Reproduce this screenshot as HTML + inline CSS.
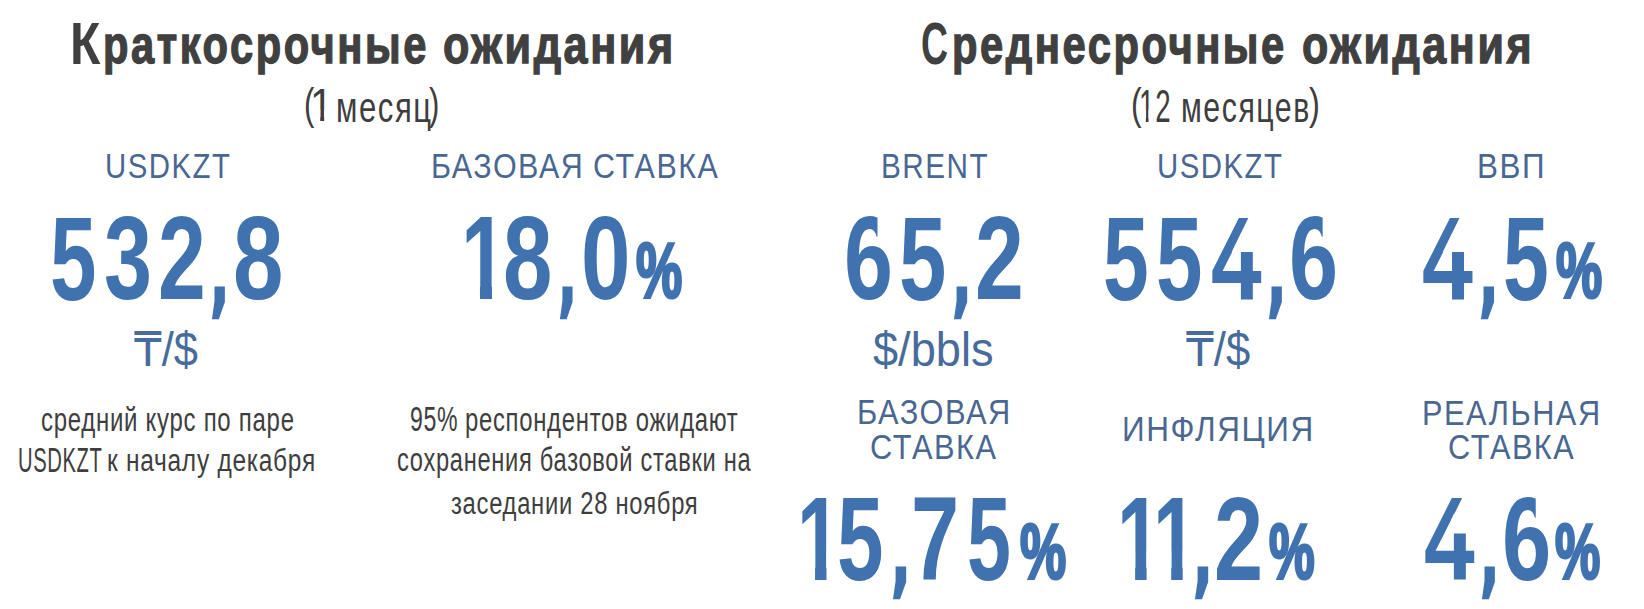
<!DOCTYPE html>
<html lang="ru"><head><meta charset="utf-8"><title>Ожидания</title>
<style>
html,body{margin:0;padding:0;background:#fff;}
body{width:1644px;height:609px;position:relative;overflow:hidden;}
body>div{position:absolute;line-height:1;white-space:nowrap;transform-origin:0 0;font-family:'Liberation Sans', 'DejaVu Sans', sans-serif;}
</style></head><body>
<div style="left:70.49px;top:14.19px;font-size:59.42px;font-weight:bold;color:#404040;transform:scaleX(0.8383);">К</div>
<div style="left:103.32px;top:19.23px;font-size:52.73px;font-weight:bold;color:#404040;transform:scaleX(0.7915);letter-spacing:0.06em;-webkit-text-stroke:0.025em #404040;">раткосрочные</div>
<div style="left:443.03px;top:18.67px;font-size:52.73px;font-weight:bold;color:#404040;transform:scaleX(0.8182);letter-spacing:0.06em;-webkit-text-stroke:0.025em #404040;">ожидания</div>
<div style="left:921.12px;top:14.18px;font-size:59.44px;font-weight:bold;color:#404040;transform:scaleX(0.6290);">С</div>
<div style="left:951.71px;top:19.23px;font-size:52.73px;font-weight:bold;color:#404040;transform:scaleX(0.7921);letter-spacing:0.06em;-webkit-text-stroke:0.025em #404040;">реднесрочные</div>
<div style="left:1301.56px;top:18.67px;font-size:52.73px;font-weight:bold;color:#404040;transform:scaleX(0.8164);letter-spacing:0.06em;-webkit-text-stroke:0.025em #404040;">ожидания</div>
<div style="left:304.47px;top:81.65px;font-size:44.47px;color:#3e3e3e;transform:scaleX(0.7006);">(</div>
<div style="left:310.46px;top:81.44px;font-size:47.10px;color:#3e3e3e;transform:scaleX(0.8758);clip-path:polygon(-0.5000em -0.5000em,30.0000em -0.5000em,30.0000em 1.5000em,0.5273em 1.5000em,0.5273em 0.5965em,0.3438em 0.5965em,0.3438em 1.5000em,0.2475em 1.5000em,0.2475em 0.5965em,-0.5000em 0.5965em);">1</div>
<div style="left:336.47px;top:85.93px;font-size:42.64px;color:#3e3e3e;transform:scaleX(0.7297);letter-spacing:0.05em;">месяц</div>
<div style="left:429.09px;top:81.65px;font-size:44.47px;color:#3e3e3e;transform:scaleX(0.7006);">)</div>
<div style="left:1130.55px;top:81.61px;font-size:44.15px;color:#3e3e3e;transform:scaleX(0.7231);">(</div>
<div style="left:1138.95px;top:81.64px;font-size:47.10px;color:#3e3e3e;transform:scaleX(0.5876);letter-spacing:0.03em;clip-path:polygon(-0.5000em -0.5000em,30.0000em -0.5000em,30.0000em 1.5000em,0.5273em 1.5000em,0.5273em 0.5965em,0.3438em 0.5965em,0.3438em 1.5000em,0.2475em 1.5000em,0.2475em 0.5965em,-0.5000em 0.5965em);">12</div>
<div style="left:1181.39px;top:86.86px;font-size:42.45px;color:#3e3e3e;transform:scaleX(0.7141);letter-spacing:0.05em;">месяцев</div>
<div style="left:1308.73px;top:81.61px;font-size:44.15px;color:#3e3e3e;transform:scaleX(0.7405);">)</div>
<div style="left:104.65px;top:147.98px;font-size:35.07px;color:#4a6792;transform:scaleX(0.8382);letter-spacing:0.05em;">USDKZT</div>
<div style="left:430.70px;top:147.98px;font-size:35.07px;color:#4a6792;transform:scaleX(0.8684);letter-spacing:0.05em;">БАЗОВАЯ</div>
<div style="left:592.86px;top:147.98px;font-size:35.07px;color:#4a6792;transform:scaleX(0.8680);letter-spacing:0.05em;">СТАВКА</div>
<div style="left:881.45px;top:147.98px;font-size:35.07px;color:#4a6792;transform:scaleX(0.8464);letter-spacing:0.05em;">BRENT</div>
<div style="left:1156.65px;top:147.98px;font-size:35.07px;color:#4a6792;transform:scaleX(0.8382);letter-spacing:0.05em;">USDKZT</div>
<div style="left:1477.13px;top:147.98px;font-size:35.07px;color:#4a6792;transform:scaleX(0.8941);letter-spacing:0.05em;">ВВП</div>
<div style="left:856.92px;top:395.20px;font-size:34.64px;color:#4a6792;transform:scaleX(0.8883);letter-spacing:0.05em;">БАЗОВАЯ</div>
<div style="left:870.10px;top:430.28px;font-size:34.64px;color:#4a6792;transform:scaleX(0.8868);letter-spacing:0.05em;">СТАВКА</div>
<div style="left:1122.20px;top:410.98px;font-size:35.94px;color:#4a6792;transform:scaleX(0.8760);letter-spacing:0.05em;">ИНФЛЯЦИЯ</div>
<div style="left:1421.93px;top:395.57px;font-size:34.64px;color:#4a6792;transform:scaleX(0.8871);letter-spacing:0.05em;">РЕАЛЬНАЯ</div>
<div style="left:1448.29px;top:430.28px;font-size:34.64px;color:#4a6792;transform:scaleX(0.8854);letter-spacing:0.05em;">СТАВКА</div>
<div style="left:50.24px;top:198.50px;font-size:118.99px;font-weight:bold;color:#4072b0;transform:scaleX(0.7026);">5</div>
<div style="left:103.53px;top:198.30px;font-size:118.99px;font-weight:bold;color:#4072b0;transform:scaleX(0.7245);">3</div>
<div style="left:157.72px;top:198.10px;font-size:118.99px;font-weight:bold;color:#4072b0;transform:scaleX(0.7221);">2</div>
<div style="left:211.42px;top:232.64px;font-size:85.95px;font-weight:bold;font-family:'DejaVu Sans', sans-serif;color:#4072b0;transform:scaleX(0.5319);-webkit-text-stroke:0.05em #4072b0;">,</div>
<div style="left:233.29px;top:198.30px;font-size:118.99px;font-weight:bold;color:#4072b0;transform:scaleX(0.7614);">8</div>
<div style="left:460.92px;top:198.30px;font-size:118.99px;font-weight:bold;color:#4072b0;transform:scaleX(0.6948);clip-path:polygon(-0.5000em -0.5000em,30.0000em -0.5000em,30.0000em 1.5000em,0.5483em 1.5000em,0.5483em 0.5965em,0.3746em 0.5965em,0.3746em 1.5000em,0.2294em 1.5000em,0.2294em 0.5965em,-0.5000em 0.5965em);">1</div>
<div style="left:502.68px;top:198.30px;font-size:118.99px;font-weight:bold;color:#4072b0;transform:scaleX(0.7463);">8</div>
<div style="left:559.12px;top:232.64px;font-size:85.95px;font-weight:bold;font-family:'DejaVu Sans', sans-serif;color:#4072b0;transform:scaleX(0.5194);-webkit-text-stroke:0.05em #4072b0;">,</div>
<div style="left:580.61px;top:198.30px;font-size:118.99px;font-weight:bold;color:#4072b0;transform:scaleX(0.7475);">0</div>
<div style="left:636.21px;top:232.26px;font-size:77.57px;font-weight:bold;color:#4072b0;transform:scaleX(0.6713);-webkit-text-stroke:0.04em #4072b0;">%</div>
<div style="left:844.11px;top:198.30px;font-size:118.99px;font-weight:bold;color:#4072b0;transform:scaleX(0.7389);clip-path:polygon(-0.5000em 1.5000em,30.0000em 1.5000em,30.0000em 0.3582em,0.3809em 0.3582em,0.3809em -0.5000em,-0.5000em -0.5000em);">6</div>
<div style="left:898.59px;top:198.50px;font-size:118.99px;font-weight:bold;color:#4072b0;transform:scaleX(0.7144);">5</div>
<div style="left:953.09px;top:232.64px;font-size:85.95px;font-weight:bold;font-family:'DejaVu Sans', sans-serif;color:#4072b0;transform:scaleX(0.5444);-webkit-text-stroke:0.05em #4072b0;">,</div>
<div style="left:974.64px;top:198.10px;font-size:118.99px;font-weight:bold;color:#4072b0;transform:scaleX(0.7375);">2</div>
<div style="left:1102.68px;top:198.50px;font-size:118.99px;font-weight:bold;color:#4072b0;transform:scaleX(0.6908);">5</div>
<div style="left:1156.24px;top:198.50px;font-size:118.99px;font-weight:bold;color:#4072b0;transform:scaleX(0.7026);">5</div>
<div style="left:1210.99px;top:198.65px;font-size:118.99px;font-weight:bold;color:#4072b0;transform:scaleX(0.7659);clip-path:polygon(-0.5000em 1.5000em,30.0000em 1.5000em,30.0000em 0.4476em,0.2271em 0.4476em,0.7209em -0.3254em,-0.5000em -0.3254em);">4</div>
<div style="left:1268.34px;top:232.64px;font-size:85.95px;font-weight:bold;font-family:'DejaVu Sans', sans-serif;color:#4072b0;transform:scaleX(0.5319);-webkit-text-stroke:0.05em #4072b0;">,</div>
<div style="left:1289.39px;top:198.30px;font-size:118.99px;font-weight:bold;color:#4072b0;transform:scaleX(0.7424);clip-path:polygon(-0.5000em 1.5000em,30.0000em 1.5000em,30.0000em 0.3582em,0.3809em 0.3582em,0.3809em -0.5000em,-0.5000em -0.5000em);">6</div>
<div style="left:1422.19px;top:198.65px;font-size:118.99px;font-weight:bold;color:#4072b0;transform:scaleX(0.7691);clip-path:polygon(-0.5000em 1.5000em,30.0000em 1.5000em,30.0000em 0.4476em,0.2271em 0.4476em,0.7209em -0.3254em,-0.5000em -0.3254em);">4</div>
<div style="left:1479.53px;top:232.64px;font-size:85.95px;font-weight:bold;font-family:'DejaVu Sans', sans-serif;color:#4072b0;transform:scaleX(0.5402);-webkit-text-stroke:0.05em #4072b0;">,</div>
<div style="left:1503.16px;top:198.50px;font-size:118.99px;font-weight:bold;color:#4072b0;transform:scaleX(0.6925);">5</div>
<div style="left:1556.34px;top:232.26px;font-size:77.57px;font-weight:bold;color:#4072b0;transform:scaleX(0.6698);-webkit-text-stroke:0.04em #4072b0;">%</div>
<div style="left:797.00px;top:480.14px;font-size:118.55px;font-weight:bold;color:#4072b0;transform:scaleX(0.6636);clip-path:polygon(-0.5000em -0.5000em,30.0000em -0.5000em,30.0000em 1.5000em,0.5483em 1.5000em,0.5483em 0.5965em,0.3746em 0.5965em,0.3746em 1.5000em,0.2294em 1.5000em,0.2294em 0.5965em,-0.5000em 0.5965em);">1</div>
<div style="left:837.32px;top:480.34px;font-size:118.55px;font-weight:bold;color:#4072b0;transform:scaleX(0.7052);">5</div>
<div style="left:891.86px;top:513.31px;font-size:85.41px;font-weight:bold;font-family:'DejaVu Sans', sans-serif;color:#4072b0;transform:scaleX(0.5478);-webkit-text-stroke:0.05em #4072b0;">,</div>
<div style="left:911.41px;top:479.25px;font-size:118.55px;font-weight:bold;color:#4072b0;transform:scaleX(0.7305);">7</div>
<div style="left:967.29px;top:480.34px;font-size:118.55px;font-weight:bold;color:#4072b0;transform:scaleX(0.6664);">5</div>
<div style="left:1019.96px;top:512.92px;font-size:77.03px;font-weight:bold;color:#4072b0;transform:scaleX(0.6745);-webkit-text-stroke:0.04em #4072b0;">%</div>
<div style="left:1117.11px;top:480.14px;font-size:118.55px;font-weight:bold;color:#4072b0;transform:scaleX(0.6664);clip-path:polygon(-0.5000em -0.5000em,30.0000em -0.5000em,30.0000em 1.5000em,0.5483em 1.5000em,0.5483em 0.5965em,0.3746em 0.5965em,0.3746em 1.5000em,0.2294em 1.5000em,0.2294em 0.5965em,-0.5000em 0.5965em);">1</div>
<div style="left:1152.59px;top:480.14px;font-size:118.55px;font-weight:bold;color:#4072b0;transform:scaleX(0.6692);clip-path:polygon(-0.5000em -0.5000em,30.0000em -0.5000em,30.0000em 1.5000em,0.5483em 1.5000em,0.5483em 0.5965em,0.3746em 0.5965em,0.3746em 1.5000em,0.2294em 1.5000em,0.2294em 0.5965em,-0.5000em 0.5965em);">1</div>
<div style="left:1193.86px;top:513.31px;font-size:85.41px;font-weight:bold;font-family:'DejaVu Sans', sans-serif;color:#4072b0;transform:scaleX(0.5478);-webkit-text-stroke:0.05em #4072b0;">,</div>
<div style="left:1214.27px;top:479.95px;font-size:118.55px;font-weight:bold;color:#4072b0;transform:scaleX(0.7454);">2</div>
<div style="left:1268.72px;top:512.92px;font-size:77.03px;font-weight:bold;color:#4072b0;transform:scaleX(0.6670);-webkit-text-stroke:0.04em #4072b0;">%</div>
<div style="left:1423.61px;top:480.49px;font-size:118.55px;font-weight:bold;color:#4072b0;transform:scaleX(0.7687);clip-path:polygon(-0.5000em 1.5000em,30.0000em 1.5000em,30.0000em 0.4476em,0.2271em 0.4476em,0.7209em -0.3254em,-0.5000em -0.3254em);">4</div>
<div style="left:1480.96px;top:513.31px;font-size:85.41px;font-weight:bold;font-family:'DejaVu Sans', sans-serif;color:#4072b0;transform:scaleX(0.5353);-webkit-text-stroke:0.05em #4072b0;">,</div>
<div style="left:1501.71px;top:480.14px;font-size:118.55px;font-weight:bold;color:#4072b0;transform:scaleX(0.7469);clip-path:polygon(-0.5000em 1.5000em,30.0000em 1.5000em,30.0000em 0.3582em,0.3809em 0.3582em,0.3809em -0.5000em,-0.5000em -0.5000em);">6</div>
<div style="left:1555.46px;top:512.92px;font-size:77.03px;font-weight:bold;color:#4072b0;transform:scaleX(0.6611);-webkit-text-stroke:0.04em #4072b0;">%</div>
<div style="left:134.31px;top:325.39px;font-size:48.77px;color:#476b9a;transform:scaleX(0.8915);">₸/$</div>
<div style="left:873.39px;top:325.39px;font-size:48.77px;color:#476b9a;transform:scaleX(0.9259);">$/bbls</div>
<div style="left:1186.19px;top:325.39px;font-size:48.77px;color:#476b9a;transform:scaleX(0.8957);">₸/$</div>
<div style="left:40.50px;top:404.30px;font-size:32.64px;color:#3e3e3e;transform:scaleX(0.7351);letter-spacing:0.03em;">средний курс по паре</div>
<div style="left:17.83px;top:442.99px;font-size:34.93px;color:#3e3e3e;transform:scaleX(0.5783);letter-spacing:0.03em;">USDKZT</div>
<div style="left:107.20px;top:444.28px;font-size:32.26px;color:#3e3e3e;transform:scaleX(0.7589);letter-spacing:0.03em;">к началу декабря</div>
<div style="left:409.71px;top:401.74px;font-size:34.64px;color:#3e3e3e;transform:scaleX(0.6678);letter-spacing:0.03em;">95%</div>
<div style="left:465.47px;top:403.66px;font-size:32.83px;color:#3e3e3e;transform:scaleX(0.7267);letter-spacing:0.03em;">респондентов ожидают</div>
<div style="left:396.94px;top:443.46px;font-size:33.02px;color:#3e3e3e;transform:scaleX(0.7167);letter-spacing:0.03em;">сохранения базовой ставки на</div>
<div style="left:450.88px;top:486.70px;font-size:32.08px;color:#3e3e3e;transform:scaleX(0.7413);letter-spacing:0.03em;">заседании 28 ноября</div>
</body></html>
